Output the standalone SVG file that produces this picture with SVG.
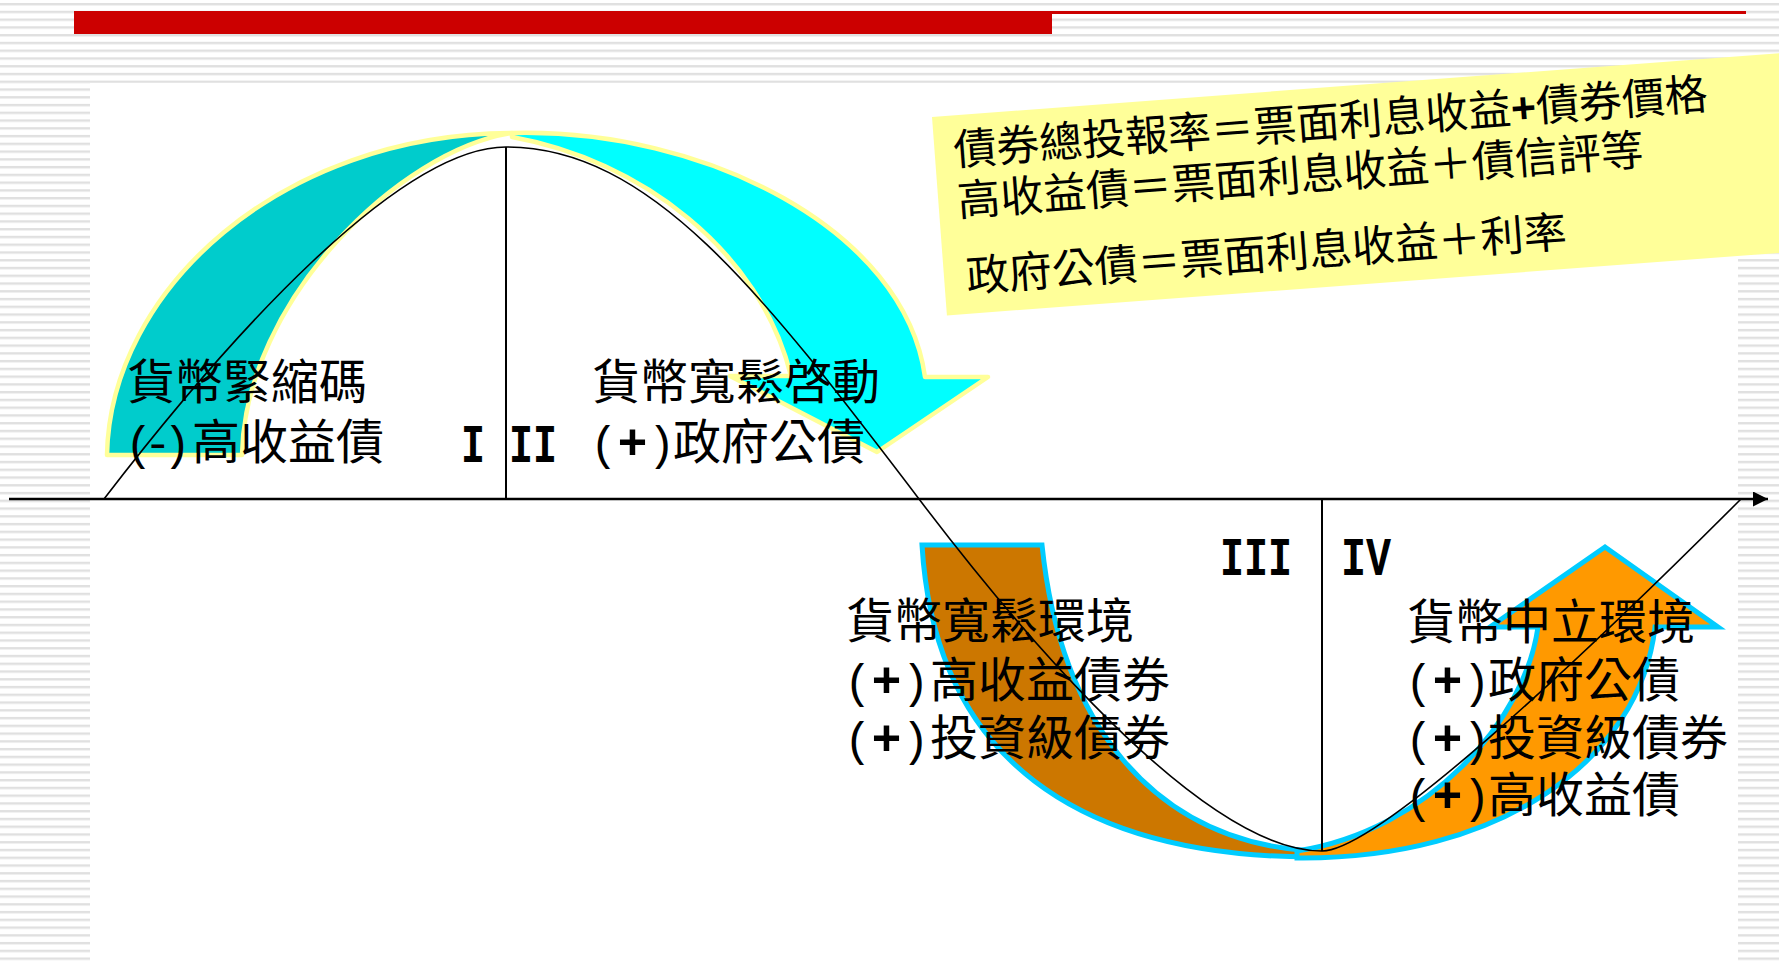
<svg xmlns="http://www.w3.org/2000/svg" width="1779" height="962" viewBox="0 0 1779 962">
<style>
.cjk{font-family:"Noto Sans CJK TC","Noto Sans CJK SC",sans-serif;font-size:48px;fill:#000}
.mono{font-family:"Liberation Mono",monospace;font-size:46px}
.plus{font-weight:bold;font-size:50px}
.rom{font-family:"Liberation Mono",monospace;font-size:54px;font-weight:bold;fill:#000}
.box{font-family:"Noto Sans CJK TC","Noto Sans CJK SC",sans-serif;font-size:43px;fill:#000}
.ylw{stroke:#FFFF99;stroke-width:4.5;stroke-linejoin:round}
.blu{stroke:#00CCFF;stroke-width:5;stroke-linejoin:miter}
.ln{fill:none;stroke:#000}
</style>
<defs>
<pattern id="stripes" x="0" y="3" width="20" height="7.76" patternUnits="userSpaceOnUse">
<rect x="0" y="0" width="20" height="2.4" fill="#E0E0E0"/>
</pattern>
<marker id="arr" viewBox="0 0 10 10" refX="10" refY="5" markerWidth="7" markerHeight="6" markerUnits="strokeWidth" orient="auto">
<path d="M0,0 L10,5 L0,10 Z" fill="#000"/>
</marker>
</defs>
<g id="background">
<rect x="0" y="0" width="1779" height="962" fill="#fff"/>
<rect x="0" y="0" width="1779" height="962" fill="url(#stripes)"/>
<rect x="90" y="83" width="1648" height="879" fill="#fff"/>
<rect x="74" y="11" width="978" height="23" fill="#CC0000"/>
<rect x="1052" y="11" width="694" height="3" fill="#CC0000"/>
</g>
<g id="arrow-contraction">
<path class="ylw" fill="#00CCCC" d="M107,455 C110,290 280,134 512,133 C400,150 245,300 242,455 Z"/>
</g>
<g id="arrow-easing-start">
<path class="ylw" fill="#00FFFF" d="M512,133 C705,128 905,230 925,377 L988,377 L877,452 L730,376 L791,376 C760,250 640,160 512,137 Z"/>
</g>
<g id="arrow-easing">
<path class="blu" fill="#CC7700" d="M922,545 L1042,545 C1060,720 1150,840 1310,851 L1310,857 C1080,856 935,760 922,545 Z"/>
</g>
<g id="arrow-neutral">
<path class="blu" fill="#FF9900" d="M1297,851 C1430,830 1525,720 1538,627 L1490,627 L1605,547 L1718,627 L1655,627 C1640,760 1500,860 1297,858 Z"/>
</g>
<g id="connectors">
<line class="ln" x1="9" y1="499" x2="1768" y2="499" stroke-width="2.5" marker-end="url(#arr)"/>
<line class="ln" x1="506" y1="147" x2="506" y2="499" stroke-width="2"/>
<line class="ln" x1="1322" y1="499" x2="1322" y2="851" stroke-width="2"/>
<path class="ln" stroke-width="1.6" d="M104,499 C230,335 400,147 506,147 C650,147 760,290 919,499 C979,578 1190,851 1322,851 C1380,851 1600,640 1741,499"/>
</g>
<g id="formula-box" transform="translate(932,117) rotate(-4.3)">
<rect x="0" y="0" width="900" height="199" fill="#FFFF99"/>
<text class="box" x="19" y="50">債券總投報率＝票面利息收益<tspan font-family="Liberation Sans, sans-serif" font-weight="bold">+</tspan>債券價格</text>
<text class="box" x="19" y="101">高收益債＝票面利息收益＋債信評等</text>
<text class="box" x="22" y="177">政府公債＝票面利息收益＋利率</text>
</g>
<g id="label-contraction">
<text class="cjk" x="127" y="399">貨幣緊縮碼</text>
<text class="cjk" y="459"><tspan class="mono" x="125" letter-spacing="-8.5">(-)</tspan><tspan x="192">高收益債</tspan></text>
</g>
<g id="label-easing-start">
<text class="cjk" x="592" y="399">貨幣寬鬆啓動</text>
<text class="cjk" y="459"><tspan class="mono" x="590">(<tspan class="plus">+</tspan>)</tspan><tspan x="673">政府公債</tspan></text>
</g>
<g id="label-easing">
<text class="cjk" x="846" y="638">貨幣寬鬆環境</text>
<text class="cjk" y="697"><tspan class="mono" x="844">(<tspan class="plus">+</tspan>)</tspan><tspan x="930">高收益債券</tspan></text>
<text class="cjk" y="755"><tspan class="mono" x="844">(<tspan class="plus">+</tspan>)</tspan><tspan x="930">投資級債券</tspan></text>
</g>
<g id="label-neutral">
<text class="cjk" x="1407" y="639">貨幣中立環境</text>
<text class="cjk" y="697"><tspan class="mono" x="1405">(<tspan class="plus">+</tspan>)</tspan><tspan x="1488">政府公債</tspan></text>
<text class="cjk" y="755"><tspan class="mono" x="1405">(<tspan class="plus">+</tspan>)</tspan><tspan x="1488">投資級債券</tspan></text>
<text class="cjk" y="812"><tspan class="mono" x="1405">(<tspan class="plus">+</tspan>)</tspan><tspan x="1488">高收益債</tspan></text>
</g>
<g id="quadrant-labels">
<text class="rom" x="461" y="462" textLength="24" lengthAdjust="spacingAndGlyphs">I</text>
<text class="rom" x="509" y="462" textLength="48" lengthAdjust="spacingAndGlyphs">II</text>
<text class="rom" x="1220" y="575" textLength="72" lengthAdjust="spacingAndGlyphs">III</text>
<text class="rom" x="1341" y="575" textLength="50" lengthAdjust="spacingAndGlyphs">IV</text>
</g>
</svg>
